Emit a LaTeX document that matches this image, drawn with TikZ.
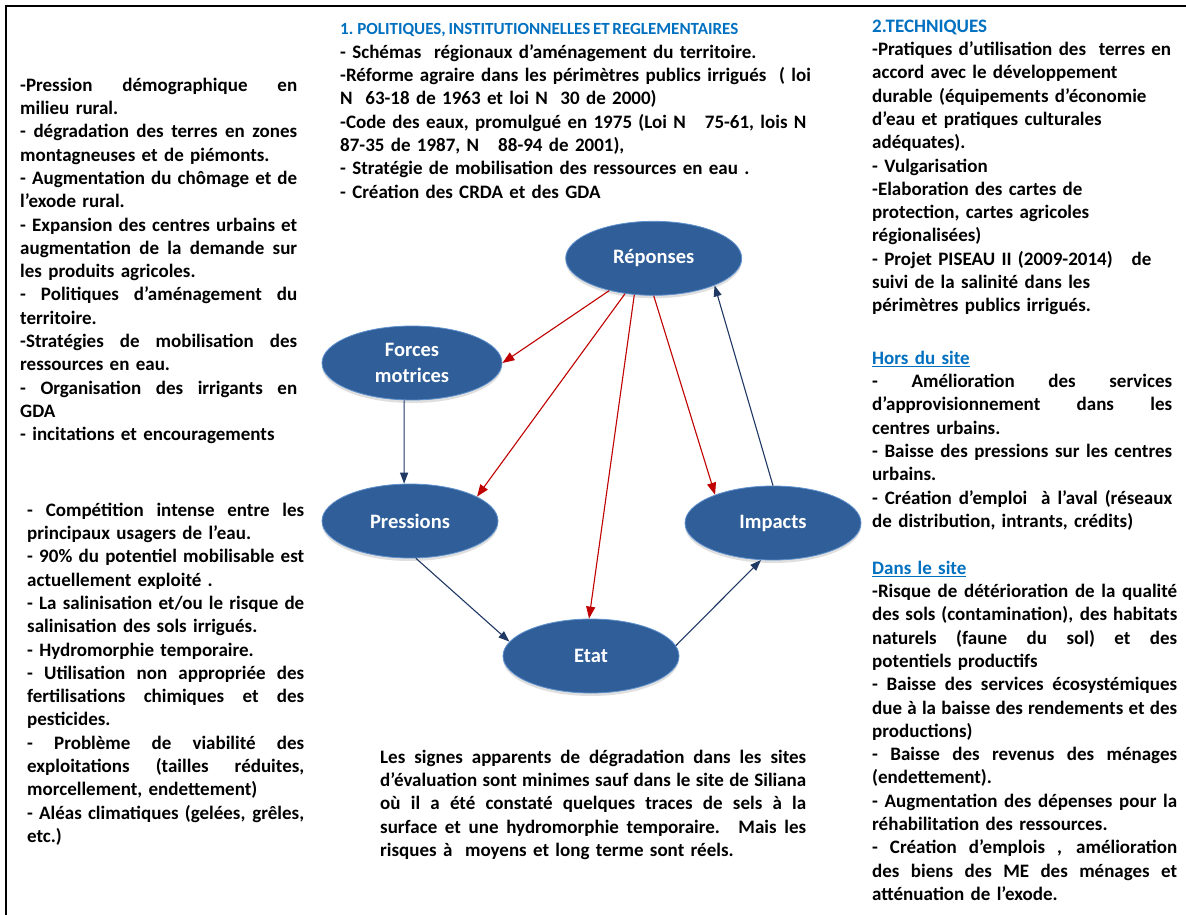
\documentclass[tikz,border=0pt]{standalone}
\usepackage{fontspec}
\setmainfont{Carlito}[WordSpace=0.7]
\usetikzlibrary{shapes.geometric,arrows.meta,shadows}
\definecolor{ellfill}{RGB}{47,94,153}
\definecolor{elldraw}{RGB}{95,145,205}
\definecolor{redarr}{RGB}{192,0,0}
\definecolor{bluearr}{RGB}{31,56,100}
\definecolor{headblue}{RGB}{0,112,192}
\newcommand{\jl}[1]{\noindent\hbox to \hsize{\spaceskip=0pt\xspaceskip=0pt #1}}
\begin{document}
\begin{tikzpicture}[x=1pt,y=-1pt,
  ell/.style={ellipse, fill=ellfill, draw=elldraw, line width=0.8pt, minimum width=176pt, minimum height=74pt, inner sep=0pt, text=white, font=\fontsize{20.5}{25.5}\selectfont\bfseries, align=center, drop shadow={opacity=0.25, shadow xshift=0pt, shadow yshift=-3pt}},
  body/.style={anchor=north west, inner sep=0pt, align=left, font=\fontsize{19}{23.3}\selectfont\bfseries},
  redarrow/.style={draw=redarr, line width=1.1pt, -{Triangle[length=12pt,width=9pt]}},
  bluearrow/.style={draw=bluearr, line width=1.1pt, -{Triangle[length=11pt,width=8pt]}}]
\useasboundingbox (0,0) rectangle (1186,915);
\fill[white] (0,0) rectangle (1186,915);
\coordinate (tl) at (6,6); \coordinate (tr) at (1186,6); \coordinate (bl) at (6,915);
\draw[line width=2.5pt] (tr) -- (tl) -- (bl);

\node[ell] (rep) at (653.7,258.3) {Réponses};
\node[ell, minimum width=180pt] (fm) at (412,363) {Forces\\motrices};
\node[ell] (pres) at (410,521) {Pressions};
\node[ell] (imp) at (773,523) {Impacts};
\node[ell] (etat) at (591,656) {Etat};

\draw[redarrow] (rep.216) -- (fm.0);
\draw[redarrow] (rep.231) -- (pres.20);
\draw[redarrow] (rep.242) -- (etat.93);
\draw[redarrow] (rep.270) -- (imp.154);
\draw[bluearrow] (imp.90) -- (rep.336);
\draw[bluearrow] (fm.258) -- (pres.99);
\draw[bluearrow] (pres.279) -- (etat.170);
\draw[bluearrow] (etat.7) -- (imp.252);

\node[body, text width=277pt] (lt) at (20,74.7) {\jl{\strut-Pression démographique en}\\
milieu rural.\\
\jl{- dégradation des terres en zones}\\
montagneuses et de piémonts.\\
\jl{- Augmentation du chômage et de}\\
l’exode rural.\\
\jl{- Expansion des centres urbains et}\\
\jl{augmentation de la demande sur}\\
les produits agricoles.\\
\jl{- Politiques d’aménagement du}\\
territoire.\\
\jl{-Stratégies de mobilisation des}\\
ressources en eau.\\
\jl{- Organisation des irrigants en}\\
GDA\\
- incitations et encouragements};

\node[body, text width=277pt] (lb) at (27,499.7) {\jl{\strut- Compétition intense entre les}\\
principaux usagers de l’eau.\\
\jl{- 90\% du potentiel mobilisable est}\\
actuellement exploité .\\
\jl{- La salinisation et/ou le risque de}\\
salinisation des sols irrigués.\\
- Hydromorphie temporaire.\\
\jl{- Utilisation non appropriée des}\\
\jl{fertilisations chimiques et des}\\
pesticides.\\
\jl{- Problème de viabilité des}\\
\jl{exploitations (tailles réduites,}\\
morcellement, endettement)\\
\jl{- Aléas climatiques (gelées, grêles,}\\
etc.)};

\node[anchor=base west, inner sep=0pt, text=headblue, font=\fontsize{17}{20}\selectfont\bfseries] (t1) at (340,35) {1. POLITIQUES, INSTITUTIONNELLES ET REGLEMENTAIRES};

\node[body, text width=480pt] (mt) at (340,41.7) {\noindent\strut- Schémas~ régionaux d’aménagement du territoire.\\
-Réforme agraire dans les périmètres publics irrigués ~( loi\\
N~~63-18 de 1963 et loi N~~30 de 2000)\\
-Code des eaux, promulgué en 1975 (Loi N~~ 75-61, lois N\\
87-35 de 1987, N~~ 88-94 de 2001),\\
- Stratégie de mobilisation des ressources en eau .\\
- Création des CRDA et des GDA};

\node[body, text width=300pt] (rt) at (872,15.7) {\noindent\strut\textcolor{headblue}{2.TECHNIQUES}\\
-Pratiques d’utilisation des~ terres en\\
accord avec le développement\\
durable (équipements d’économie\\
d’eau et pratiques culturales\\
adéquates).\\
- Vulgarisation\\
-Elaboration des cartes de\\
protection, cartes agricoles\\
régionalisées)\\
- Projet PISEAU II (2009-2014)~~ de\\
suivi de la salinité dans les\\
périmètres publics irrigués.};

\node[body, text width=300pt] (hs) at (872,347.7) {\noindent\strut\textcolor{headblue}{\underline{Hors du site}}\\
\jl{- Amélioration des services}\\
\jl{d’approvisionnement dans les}\\
centres urbains.\\
\jl{- Baisse des pressions sur les centres}\\
urbains.\\
\jl{- Création d’emploi~ à l’aval (réseaux}\\
de distribution, intrants, crédits)};

\node[body, text width=305pt] (ds) at (872,557.7) {\noindent\strut\textcolor{headblue}{\underline{Dans le site}}\\
\jl{-Risque de détérioration de la qualité}\\
\jl{des sols (contamination), des habitats}\\
\jl{naturels (faune du sol) et des}\\
potentiels productifs\\
\jl{- Baisse des services écosystémiques}\\
\jl{due à la baisse des rendements et des}\\
productions)\\
\jl{- Baisse des revenus des ménages}\\
(endettement).\\
\jl{- Augmentation des dépenses pour la}\\
réhabilitation des ressources.\\
\jl{- Création d’emplois , amélioration}\\
\jl{des biens des ME des ménages et}\\
atténuation de l’exode.};

\node[body, text width=426pt] (bm) at (380,746.7) {\jl{\strut Les signes apparents de dégradation dans les sites}\\
\jl{d’évaluation sont minimes sauf dans le site de Siliana}\\
\jl{où il a été constaté quelques traces de sels à la}\\
\jl{surface et une hydromorphie temporaire. Mais les}\\
risques à~ moyens et long terme sont réels.};
\end{tikzpicture}
\end{document}
